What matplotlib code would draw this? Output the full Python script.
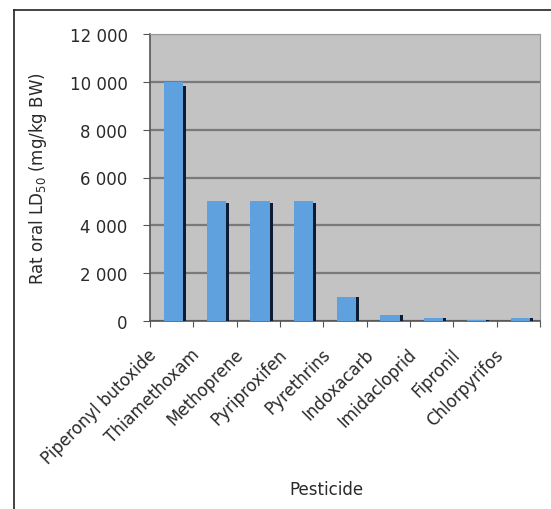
import matplotlib.pyplot as plt
from matplotlib.lines import Line2D
from matplotlib.transforms import ScaledTranslation
import numpy as np

# pesticide names and rat oral LD50 values (mg/kg body weight)
pesticides = ['Piperonyl butoxide', 'Thiamethoxam', 'Methoprene', 'Pyriproxifen',
              'Pyrethrins', 'Indoxacarb', 'Imidacloprid', 'Fipronil', 'Chlorpyrifos']
ld50 = [10000, 5000, 5000, 5000, 1000, 250, 130, 50, 100]
yticks = [0, 2000, 4000, 6000, 8000, 10000, 12000]
ytick_labels = ['0', '2 000', '4 000', '6 000', '8 000', '10 000', '12 000']

plt.rcParams['font.family'] = 'DejaVu Sans'
text_color = '#2a2a2a'
fs = 12

fig = plt.figure(figsize=(5.51, 5.10), dpi=100)
ax = fig.add_axes([0.272, 0.369, 0.708, 0.562])

x = np.arange(len(pesticides))
# bar with a dark right edge, excel-style pseudo 3D
ax.bar(x + 0.04, ld50, width=0.44, color='#5fa0de', zorder=3)
ax.bar(x + 0.295, np.array(ld50) * 0.985, width=0.07, color='#0c1c34', zorder=3)

ax.set_facecolor('#c3c3c3')
ax.set_xlim(-0.5, len(pesticides) - 0.5)
ax.set_ylim(0, 12000)
ax.set_yticks(yticks)
ax.set_yticklabels(ytick_labels, fontsize=fs, color=text_color)
ax.yaxis.grid(True, color='#7a7a7a', linewidth=1.6, zorder=1)
ax.set_axisbelow(True)

# ticks between categories, labels on the categories
ax.set_xticks(np.arange(len(pesticides) + 1) - 0.5)
ax.set_xticklabels([])
ax.set_xticks(x, minor=True)
ax.set_xticklabels(pesticides, minor=True, rotation=45, ha='right',
                   rotation_mode='anchor', fontsize=fs, color=text_color)
ax.tick_params(axis='x', which='minor', length=0, pad=8)
ax.tick_params(axis='x', which='major', length=4, color='#555555', direction='out')
ax.tick_params(axis='y', length=5, color='#555555', direction='out', pad=11)

# shift the rotated labels a little down-left
shift = ScaledTranslation(-24 / 100, -13 / 100, fig.dpi_scale_trans)
for lbl in ax.get_xticklabels(minor=True):
    lbl.set_transform(lbl.get_transform() + shift)

for s in ['top', 'right']:
    ax.spines[s].set_color('#9a9a9a')
ax.spines['left'].set_color('#555555')
ax.spines['bottom'].set_color('#555555')
ax.spines['left'].set_linewidth(1.2)
ax.spines['bottom'].set_linewidth(1.2)

ax.set_ylabel('Rat oral LD$_{50}$ (mg/kg BW)', fontsize=fs, color=text_color, labelpad=15)
fig.text(0.593, 0.039, 'Pesticide', fontsize=fs, color=text_color, ha='center', va='center')

# frame lines at left and top of the figure
fig.add_artist(Line2D([14 / 551, 14 / 551], [0, 1 - 11 / 510], color='#222222', linewidth=1.2))
fig.add_artist(Line2D([14 / 551, 1], [1 - 11 / 510, 1 - 11 / 510], color='#222222', linewidth=1.2))

plt.savefig('out.png', dpi=100)
